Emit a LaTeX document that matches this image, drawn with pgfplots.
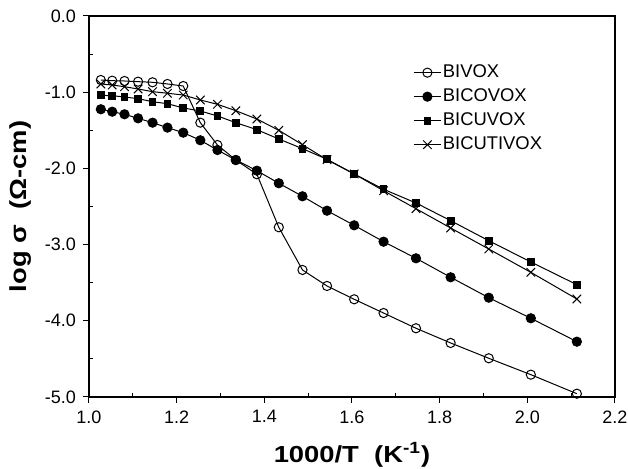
\documentclass[border=0pt]{standalone}
\usepackage{fontspec}
\setmainfont{Liberation Sans}
\newfontfamily\labfont[FakeStretch=1.18]{Liberation Sans}
\usepackage{pgfplots}
\pgfplotsset{compat=1.18}

\pgfplotstableread{
x y
1.027 -0.840
1.053 -0.849
1.081 -0.853
1.112 -0.862
1.145 -0.870
1.179 -0.892
1.215 -0.919
1.254 -1.400
1.293 -1.693
1.335 -1.890
1.383 -2.077
1.433 -2.773
1.487 -3.333
1.543 -3.543
1.605 -3.718
1.672 -3.898
1.746 -4.098
1.825 -4.291
1.912 -4.492
2.008 -4.707
2.113 -4.957
}\bivox

\pgfplotstableread{
x y
1.027 -1.224
1.053 -1.256
1.081 -1.290
1.112 -1.343
1.145 -1.400
1.179 -1.465
1.215 -1.531
1.254 -1.631
1.293 -1.759
1.335 -1.890
1.383 -2.030
1.433 -2.195
1.487 -2.366
1.543 -2.555
1.605 -2.747
1.672 -2.962
1.746 -3.180
1.825 -3.429
1.912 -3.697
2.008 -3.967
2.113 -4.274
}\bicovox

\pgfplotstableread{
x y
1.027 -1.041
1.053 -1.046
1.081 -1.063
1.112 -1.085
1.145 -1.125
1.179 -1.151
1.215 -1.207
1.254 -1.247
1.293 -1.312
1.335 -1.400
1.383 -1.492
1.433 -1.614
1.487 -1.741
1.543 -1.881
1.605 -2.073
1.672 -2.274
1.746 -2.454
1.825 -2.686
1.912 -2.949
2.008 -3.228
2.113 -3.526
}\bicuvox

\pgfplotstableread{
x y
1.027 -0.892
1.053 -0.906
1.081 -0.928
1.112 -0.958
1.145 -0.993
1.179 -1.014
1.215 -1.037
1.254 -1.102
1.293 -1.159
1.335 -1.243
1.383 -1.352
1.433 -1.500
1.487 -1.689
1.543 -1.886
1.605 -2.073
1.672 -2.293
1.746 -2.529
1.825 -2.782
1.912 -3.058
2.008 -3.364
2.113 -3.714
}\bicutivox

\begin{document}
\begin{tikzpicture}
\path[use as bounding box] (-44.5pt,-36pt) rectangle (269.5pt,198.5pt);
\begin{axis}[
    scale only axis,
    width=263pt, height=190.5pt,
    xmin=1.0, xmax=2.2,
    ymin=-5, ymax=0,
    xtick={1.0,1.2,...,2.21},
    ytick={-5,-4,...,0},
    minor x tick num=1,
    minor y tick num=1,
    xtick pos=bottom, ytick pos=left,
    tick align=inside,
    major tick length=-3pt,
    minor tick length=2pt,
    axis line style={line width=0.6pt},
    tick style={line width=0.5pt, black},
    /pgf/number format/assume math mode=true,
    /pgf/number format/.cd, fixed, fixed zerofill, precision=1, /pgfplots/.cd,
    ticklabel style={font=\fontsize{9}{10.5}\selectfont},
    xticklabel style={yshift=-3.2pt},
    yticklabel style={xshift=-3pt},
    xlabel={1000/T\ \ (K\textsuperscript{-1})},
    ylabel={log σ\ \ (Ω-cm)},
    xlabel style={at={(axis description cs:0.5,-0.152)}, anchor=center, font=\labfont\fontsize{11.6}{13}\selectfont\bfseries},
    ylabel style={at={(axis description cs:-0.13,0.5)}, anchor=center, font=\labfont\fontsize{11.6}{13}\selectfont\bfseries},
    legend style={draw=none, fill=none, at={(0.604,0.888)}, anchor=north west,
        font=\fontsize{9.2}{10.5}\selectfont, row sep=2.4pt,
        nodes={inner sep=0.6pt, text height=6.8pt, text depth=1.6pt}},
    legend cell align=left,
    legend image code/.code={\draw[mark repeat=2,mark phase=2,#1] plot coordinates {(0pt,0pt) (6.9pt,0pt) (13.8pt,0pt)};},
]
\addplot[black, line width=0.5pt, mark=o, mark size=2.3pt, mark options={fill=white}] table {\bivox};
\addlegendentry{BIVOX}
\addplot[black, line width=0.5pt, mark=*, mark size=2.3pt] table {\bicovox};
\addlegendentry{BICOVOX}
\addplot[black, line width=0.5pt, mark=square*, mark size=1.7pt] table {\bicuvox};
\addlegendentry{BICUVOX}
\addplot[black, line width=0.5pt, mark=x, mark size=3pt] table {\bicutivox};
\addlegendentry{BICUTIVOX}
\end{axis}
\end{tikzpicture}
\end{document}
